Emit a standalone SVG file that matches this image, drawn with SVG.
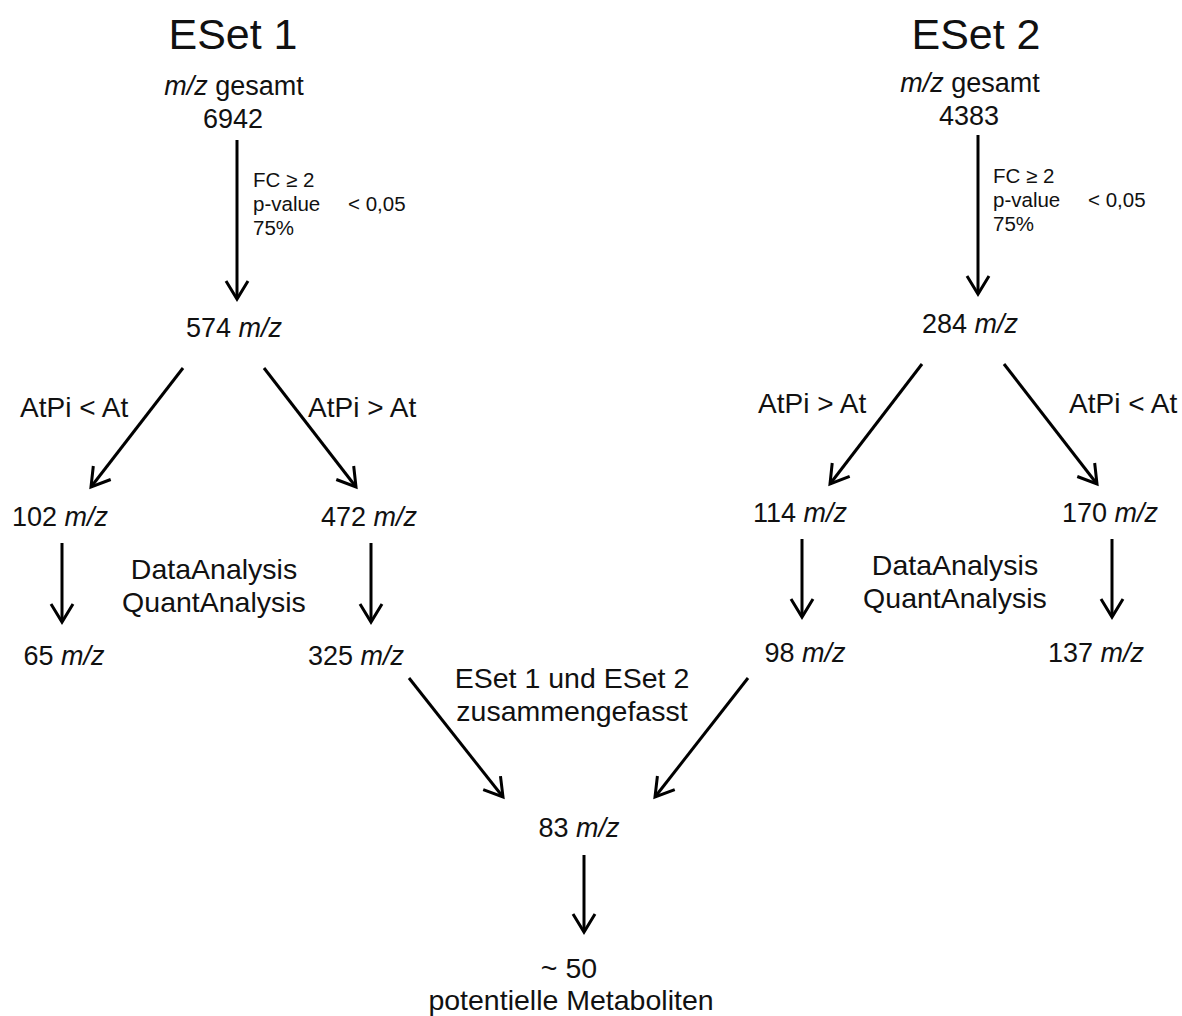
<svg xmlns="http://www.w3.org/2000/svg" width="1182" height="1016" viewBox="0 0 1182 1016">
<style>
text{font-family:"Liberation Sans",Arial,sans-serif;fill:#111;}
.t{font-size:43px;text-anchor:middle;}
.n{font-size:28px;}
.c{font-size:27px;text-anchor:middle;}
.l{font-size:28.5px;text-anchor:middle;}
.s{font-size:20.5px;}
.i{font-style:italic;}
.a{stroke:#000;stroke-width:3;fill:none;marker-end:url(#ah);}
</style>
<defs>
<marker id="ah" markerUnits="userSpaceOnUse" viewBox="-20 -13 24 26" refX="0" refY="0" markerWidth="24" markerHeight="26" orient="auto">
<path d="M-18,-11 L0,0 L-18,11" fill="none" stroke="#000" stroke-width="3" stroke-linejoin="miter"/>
</marker>
</defs>
<rect width="1182" height="1016" fill="#fff"/>
<g id="connectors">
<line class="a" x1="237" y1="140" x2="237" y2="299"/>
<line class="a" x1="978" y1="135" x2="978" y2="294"/>
<line class="a" x1="183" y1="368" x2="91" y2="487"/>
<line class="a" x1="264" y1="368" x2="356" y2="487"/>
<line class="a" x1="922" y1="364" x2="830" y2="484"/>
<line class="a" x1="1004" y1="364" x2="1097" y2="484"/>
<line class="a" x1="62" y1="543" x2="62" y2="622"/>
<line class="a" x1="371" y1="543" x2="371" y2="622"/>
<line class="a" x1="802" y1="539" x2="802" y2="617"/>
<line class="a" x1="1112" y1="539" x2="1112" y2="617"/>
<line class="a" x1="409" y1="678" x2="503" y2="797"/>
<line class="a" x1="748" y1="678" x2="655" y2="797"/>
<line class="a" x1="584" y1="855" x2="584" y2="932"/>
</g>
<g id="eset1-title"><text class="t" x="233" y="49">ESet 1</text></g>
<g id="eset2-title"><text class="t" x="976" y="49">ESet 2</text></g>
<g id="eset1-total"><text class="c" x="234" y="95"><tspan class="i">m/z</tspan> gesamt</text><text class="c" x="233" y="128">6942</text></g>
<g id="eset2-total"><text class="c" x="970" y="92"><tspan class="i">m/z</tspan> gesamt</text><text class="c" x="969" y="125">4383</text></g>
<g id="crit1"><text class="s" x="253" y="187">FC ≥ 2</text><text class="s" x="253" y="211">p-value<tspan x="348">&lt; 0,05</tspan></text><text class="s" x="253" y="235">75%</text></g>
<g id="crit2"><text class="s" x="993" y="183">FC ≥ 2</text><text class="s" x="993" y="207">p-value<tspan x="1088">&lt; 0,05</tspan></text><text class="s" x="993" y="231">75%</text></g>
<g id="n574"><text class="c" x="234" y="337">574 <tspan class="i">m/z</tspan></text></g>
<g id="n284"><text class="c" x="970" y="333">284 <tspan class="i">m/z</tspan></text></g>
<g id="lab1l"><text class="n" x="20" y="417">AtPi &lt; At</text></g>
<g id="lab1r"><text class="n" x="308" y="417">AtPi &gt; At</text></g>
<g id="lab2l"><text class="n" x="758" y="413">AtPi &gt; At</text></g>
<g id="lab2r"><text class="n" x="1069" y="413">AtPi &lt; At</text></g>
<g id="n102"><text class="c" x="60" y="526">102 <tspan class="i">m/z</tspan></text></g>
<g id="n472"><text class="c" x="369" y="526">472 <tspan class="i">m/z</tspan></text></g>
<g id="n114"><text class="c" x="800" y="522">114 <tspan class="i">m/z</tspan></text></g>
<g id="n170"><text class="c" x="1110" y="522">170 <tspan class="i">m/z</tspan></text></g>
<g id="da1"><text class="l" x="214" y="579">DataAnalysis</text><text class="l" x="214" y="612">QuantAnalysis</text></g>
<g id="da2"><text class="l" x="955" y="575">DataAnalysis</text><text class="l" x="955" y="608">QuantAnalysis</text></g>
<g id="n65"><text class="c" x="64" y="665">65 <tspan class="i">m/z</tspan></text></g>
<g id="n325"><text class="c" x="356" y="665">325 <tspan class="i">m/z</tspan></text></g>
<g id="n98"><text class="c" x="805" y="662">98 <tspan class="i">m/z</tspan></text></g>
<g id="n137"><text class="c" x="1096" y="662">137 <tspan class="i">m/z</tspan></text></g>
<g id="merge"><text class="l" x="572" y="688">ESet 1 und ESet 2</text><text class="l" x="572" y="721">zusammengefasst</text></g>
<g id="n83"><text class="c" x="579" y="837">83 <tspan class="i">m/z</tspan></text></g>
<g id="final"><text class="l" x="569" y="978">~ 50</text><text class="l" x="571" y="1010">potentielle Metaboliten</text></g>
</svg>
